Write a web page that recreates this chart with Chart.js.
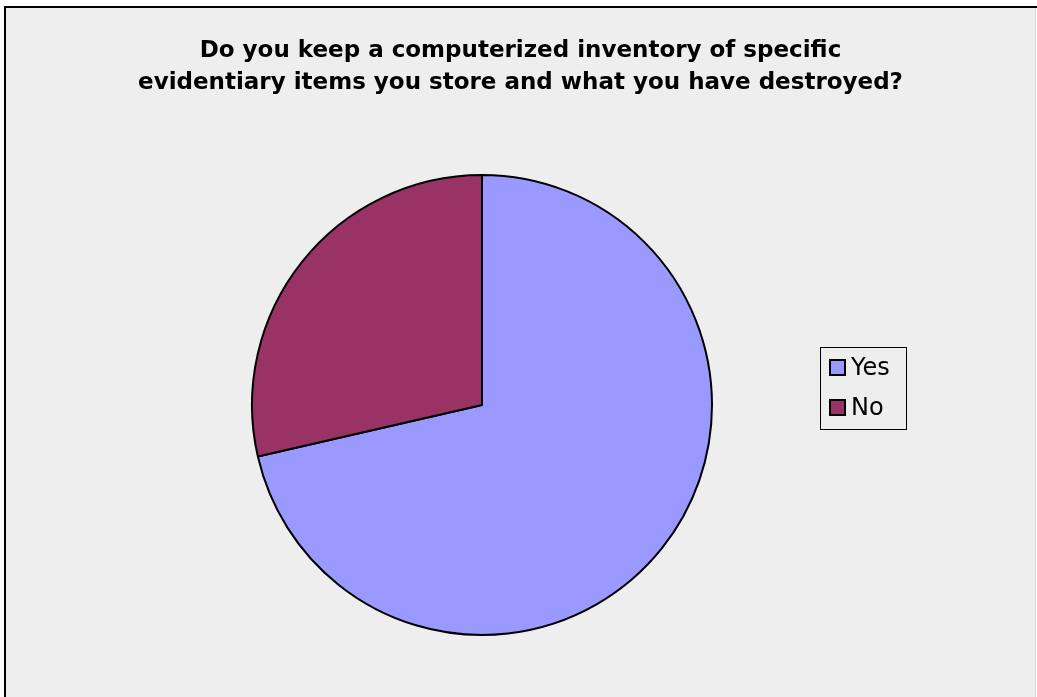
<!DOCTYPE html>
<html>
<head>
<meta charset="utf-8">
<script src="https://cdn.jsdelivr.net/npm/chart.js@4"></script>
<style>
  html, body { margin: 0; padding: 0; background: #ffffff; }
  #wrap { position: relative; width: 1037px; height: 697px; }
</style>
</head>
<body>
<div id="wrap"><canvas id="c" width="1037" height="697"></canvas></div>
<script>
// ---- data ----
const titleLines = [
  'Do you keep a computerized inventory of specific',
  'evidentiary items you store and what you have destroyed?'
];
const categories = ['Yes', 'No'];
const shares = [71.4, 28.6];
const sliceColors = ['#9999FF', '#993366'];

const frame = {
  id: 'frame',
  beforeDraw(chart) {
    const ctx = chart.ctx;
    ctx.save();
    ctx.fillStyle = '#ffffff';
    ctx.fillRect(0, 0, 1037, 697);
    ctx.fillStyle = '#eeeeee';
    ctx.fillRect(5, 7, 1030, 690);
    ctx.fillStyle = '#000000';
    ctx.fillRect(4, 6, 1033, 2);
    ctx.fillRect(4, 6, 2, 691);
    ctx.fillStyle = '#d8d8d8';
    ctx.fillRect(1035, 8, 1, 689);
    ctx.restore();
  },
  afterLayout(chart) {
    const t = chart.titleBlock;
    if (t) { t.left = 4; t.right = 1037; t.width = 1033; }
  },
  afterDraw(chart) {
    const ctx = chart.ctx;
    ctx.save();
    // legend frame
    ctx.strokeStyle = '#000000';
    ctx.lineWidth = 1;
    ctx.strokeRect(820.5, 347.5, 86, 82);
    // legend items
    ctx.font = '24px "DejaVu Sans", sans-serif';
    ctx.textBaseline = 'middle';
    ctx.textAlign = 'left';
    chart.data.labels.forEach((lab, i) => {
      const y = 360 + i * 40;
      ctx.fillStyle = chart.data.datasets[0].backgroundColor[i];
      ctx.fillRect(830, y, 15, 15);
      ctx.strokeStyle = '#000000';
      ctx.lineWidth = 2;
      ctx.strokeRect(830, y, 15, 15);
      ctx.fillStyle = '#000000';
      ctx.fillText(lab, 851, y + 9);
    });
    ctx.restore();
  }
};

new Chart(document.getElementById('c'), {
  type: 'pie',
  data: {
    labels: categories,
    datasets: [{
      data: shares,
      backgroundColor: sliceColors,
      borderColor: '#000000',
      borderWidth: 2,
      hoverOffset: 0
    }]
  },
  options: {
    responsive: false,
    animation: false,
    events: [],
    layout: { padding: { left: 251, right: 324, top: 8, bottom: 61 } },
    plugins: {
      title: {
        display: true,
        text: titleLines,
        color: '#000000',
        font: { family: '"DejaVu Sans", sans-serif', size: 23, weight: 'bold', lineHeight: '32px' },
        padding: { top: 27, bottom: 75 }
      },
      legend: { display: false },
      tooltip: { enabled: false }
    }
  },
  plugins: [frame]
});
</script>
</body>
</html>
